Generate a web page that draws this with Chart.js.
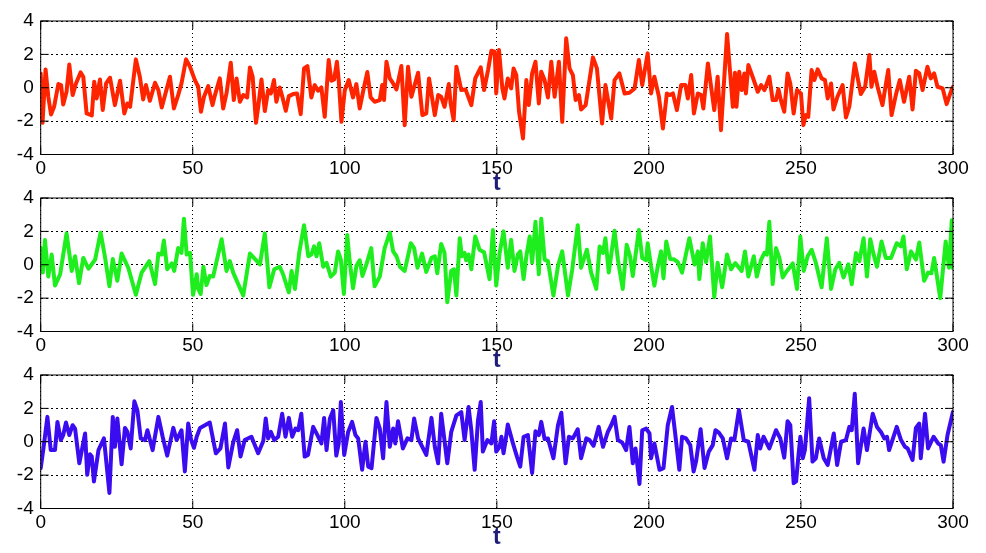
<!DOCTYPE html>
<html>
<head>
<meta charset="utf-8">
<script src="https://cdn.jsdelivr.net/npm/chart.js@4.4.0/dist/chart.umd.min.js"></script>
<style>
  html, body { margin: 0; padding: 0; background: #fff; }
  body { width: 986px; height: 553px; position: relative; overflow: hidden; }
  .panel { position: absolute; left: 0; width: 986px; height: 198px; }
</style>
</head>
<body>
<div class="panel" style="top:0px"><canvas id="c1" width="986" height="198"></canvas></div>
<div class="panel" style="top:176.5px"><canvas id="c2" width="986" height="198"></canvas></div>
<div class="panel" style="top:354.3px"><canvas id="c3" width="986" height="198"></canvas></div>
<script>
// --- data (t, value) ---
const xTicks = [0, 50, 100, 150, 200, 250, 300];
const yTicks = [-4, -2, 0, 2, 4];

const redT = [0,0.6,1.6,2.5,3.4,4.4,5.8,6.7,7.4,8.5,9.4,10.5,11.6,13.1,14,15.1,16.8,17.6,18.4,19.5,20.4,21.5,22.8,24.4,26.1,27.5,28.5,29.4,31.3,32.6,33.7,34.6,35.9,37.6,38.7,39.8,40.9,42.5,43.8,45.2,46.3,47.8,49.1,50.7,51.8,52.7,53.7,55.1,56.5,57.3,58.9,60,61.1,62.5,63.5,64.4,65.5,66.6,67.9,68.8,69.7,70.8,71.6,72.6,73.7,74.8,75.7,76.7,77.5,78.6,79.4,80.6,81.6,83,84.3,85.5,86.6,87.7,89,90.1,91.2,92.3,93.4,94.7,95.6,96.5,97.4,98,98.9,100,101.3,102.7,103.8,104.9,106,107.4,108.5,109.8,111.5,112.3,112.9,113.7,114.8,115.9,117,118.6,119.7,120.8,121.9,124.1,125.5,126.8,127.7,129.6,130.7,131.7,132.8,134.2,134.8,135.8,136.7,138.3,139.7,141.6,142.9,144.7,145.8,147.1,148.2,149.3,149.8,150.7,151.8,152.5,153.6,154.7,155.5,156.4,157.3,158.6,159.7,160.5,161.6,162.7,163.8,164.6,165.7,166.8,167.9,169,170.4,171.5,172.8,173.9,175,175.9,177,177.7,179.2,180.3,181.6,182.9,184.6,185.7,187.6,188.7,190.3,192,193.6,195.3,196.7,197.8,199.6,200.7,201.8,203.3,204.6,205.9,206.8,207.9,209.2,210.6,212,212.8,213.9,214.8,216.1,217.2,217.9,219.4,221.5,222.6,223.7,225.7,227.6,228.3,228.8,229.7,230.5,231.4,231.9,232.7,234.1,235.8,236.9,238,239.6,240.7,241.8,242.6,243.4,244.5,245.6,246.5,247.6,248.7,250,250.8,251.6,252.4,253.5,254.4,255.5,256.8,257.9,258.8,259.9,260.7,262,263.7,264.8,265.9,267.7,269.7,271.1,272.5,273.2,274.1,275.2,276.8,278.7,279.8,281.2,282.5,283.9,285.6,286.7,287.8,288.9,290,291.6,292.7,293.8,294.9,296.6,297.9,299.5,300];
const redV = [0.86,-2.1,1.1,-0.54,-1.6,-1.14,0.22,0.16,-1.0,-0.24,1.4,-0.44,0.26,0.92,0.66,-1.54,-1.66,0.36,-0.64,0.5,-1.34,0.26,0.6,-1.04,0.42,-1.54,-0.94,-1.14,1.7,0.66,-0.7,0.16,-0.78,0.3,-0.14,-1.18,-0.44,0.66,-1.24,-0.44,0.26,1.7,1.26,0.46,0.06,-1.44,-0.54,0.1,-1.04,-0.44,0.56,-1.24,-0.34,1.5,-0.74,0.56,-0.84,-0.44,-0.58,1.22,0.66,-2.1,-1.04,0.5,-1.4,-0.14,-0.34,0.46,-0.84,0.02,-0.5,-1.38,-0.5,-0.38,-0.34,-1.58,1.16,1.3,-0.58,0.16,-0.18,0.02,-1.74,1.66,0.42,0.5,1.56,0.46,-2.04,-0.14,0.46,-0.58,0.22,-1.24,-0.24,0.94,-0.58,-0.84,-0.74,0.16,-0.74,1.56,0.56,0.26,-0.1,1.3,-2.24,1.26,-0.54,0.9,-1.64,-1.54,0.56,-1.64,-0.44,-0.54,-1.14,0.22,-0.94,-1.94,1.26,-0.14,-0.1,-1.04,0.56,1.22,-0.14,1.06,2.22,2.16,-0.34,2.26,-0.04,-0.64,0.56,-0.04,1.16,0.76,-1.44,-3.04,0.46,-1.04,0.86,1.56,-0.94,0.96,0.46,-0.58,1.56,-0.54,1.56,-2.04,2.96,1.16,0.76,-0.74,-0.44,-1.3,-1.04,0.26,1.82,1.16,-2.14,0.16,-1.84,0.46,0.86,-0.34,-0.3,-0.04,1.66,0.16,2.06,-0.34,0.66,-0.54,-2.44,-0.34,-0.44,-0.34,-1.34,0.16,0.16,-0.64,0.76,-1.54,-0.34,-0.44,-1.24,1.46,-1.34,0.66,-2.54,3.22,-1.14,0.9,-1.14,0.96,-0.14,0.86,-0.34,1.36,0.66,-0.24,0.16,-0.14,0.66,-0.74,-0.74,-0.08,-0.74,-1.44,0.86,0.26,-1.54,-0.14,-0.34,-2.24,-1.64,-1.74,1.06,0.46,1.1,0.56,0.46,-0.64,0.26,-1.3,-0.54,0.16,-1.78,-1.14,1.46,-0.38,0.06,1.96,0.06,0.96,0.06,-1.04,1.06,-1.64,-0.44,0.46,-0.84,0.66,-1.3,1.02,0.86,-0.14,1.26,0.56,0.86,0.06,-0.04,-0.98,-0.14,0.06];

const greenT = [0,0.7,1.4,2.5,3.6,4.7,6.4,8.5,10.2,11.3,12.6,14,15.7,17.9,19.7,21.1,22.6,23.7,25.2,26.6,28.8,31.3,33.2,35.7,37.6,38.7,39.8,40.5,41.6,43.1,43.9,45.2,46.3,47.1,48,49.1,50.1,51.3,51.8,52.6,53.5,54.5,55.6,56.7,59.5,61.1,62.2,63.3,66.6,68.8,72.1,73.7,75.2,76.8,78.6,79.7,81.6,82.5,83.6,85,86.6,88,89,89.9,90.7,91.6,92.9,94,95.4,96.7,97.8,98.7,99.7,100.8,101.6,102.7,103.8,104.9,105.8,107.1,108.7,109.8,111.5,113.1,114.8,115.9,117,118.1,119.7,121.7,122.8,123.9,125.4,126.8,128.5,129.6,130.4,131.7,132.8,133.7,135,135.9,136.7,137.8,138.5,139.4,139.9,140.7,141.6,142.9,144.3,145.8,147.6,148.7,149.8,150.9,152.2,153.6,154.7,155.8,156.9,157.7,158.8,159.7,160.8,161.6,162.7,163.8,164.6,165.7,166.8,168.6,170.1,171.5,173.4,174.8,176.6,177.7,179.6,181,182.7,183.8,184.9,185.7,186.8,188.7,189.8,191.4,192.7,193.8,194.7,196.7,197.8,199.1,199.6,200.7,201.8,202.9,204,204.8,205.7,207,208.4,209.5,210.9,213.3,215,216.1,216.6,217.7,218.8,220.1,221.5,222.6,224.1,225.7,227,228.4,230.5,231.6,232.7,234.5,235.5,236.9,238,238.8,239.6,240.7,241.8,242.9,244,245.4,247.3,248.7,249.8,250.9,252.2,253.5,254.9,256.8,258.5,259.9,261.3,262.6,264,265.6,266.7,268.1,269.2,270.6,271.7,272.8,273.9,275,276.5,277.9,279.6,281.5,282.9,283.7,284.8,286.2,287.8,288.9,290.5,291.8,292.9,293.8,295.8,297.6,298.7,299.6,300];
const greenV = [1.0,-0.47,1.49,-0.71,0.61,-1.25,-0.57,1.88,-0.37,0.51,-1.1,0.41,-0.24,0.31,1.92,0.51,-1.29,0.35,-0.96,0.67,-0.18,-1.8,-0.47,0.22,-1.16,0.67,0.61,1.45,-0.27,0.08,-0.37,1.0,0.71,2.76,0.61,0.71,-1.8,-0.57,-1.45,-1.75,-0.12,-1.22,-0.67,-0.71,1.53,-0.37,0.22,-0.47,-1.84,0.67,0.02,1.88,-1.35,-0.27,-0.12,-0.57,-1.65,-0.37,-1.45,0.71,2.37,0.51,0.61,1.1,0.51,1.29,-0.12,0.12,-0.71,-0.47,0.8,0.31,-1.75,1.78,0.22,-1.41,-0.08,0.27,-0.67,0.02,1.0,-1.29,-0.71,1.0,1.92,0.8,0.51,-0.12,-0.37,1.29,1.0,-0.18,0.67,-0.43,0.41,0.51,-0.51,1.25,0.71,-2.24,-0.37,-0.27,-1.84,1.59,0.51,0.71,0.27,0.61,-0.27,1.69,0.9,0.75,-0.86,2.08,-1.25,0.7,2.0,-0.18,1.49,-0.37,0.61,0.8,-0.86,0.51,1.69,0.12,2.57,-0.57,2.76,0.31,0.22,-1.84,-0.08,0.8,-1.84,-0.27,2.37,-0.18,0.9,-0.47,-1.45,1.1,0.71,1.59,-0.47,2.04,0.31,-1.45,1.2,0.51,-0.67,2.08,0.41,0.27,1.29,-0.08,-1.25,-0.12,0.8,-0.82,1.39,0.35,0.31,0.16,-0.47,1.59,0.02,0.8,-0.86,1.29,0.16,1.69,-1.94,0.12,-1.35,0.61,-0.27,0.1,-0.37,0.8,-0.71,0.51,-0.71,0.31,0.71,0.61,2.57,-1.16,1.0,0.41,-0.76,-0.37,0.08,-1.45,1.69,-0.37,0.51,0.9,0.12,-1.35,1.59,-1.45,-0.27,0.12,-0.76,0.02,-1.16,0.71,0.22,1.59,-0.71,1.53,0.61,-0.12,1.39,0.41,0.41,1.29,1.1,1.69,-0.27,0.8,0.31,1.33,-0.96,-0.47,-0.51,0.41,-2.0,1.39,-0.18,2.67,-0.2];

const blueT = [0,0.9,2.2,3.3,4.7,5.5,6.6,7.4,8.3,9.4,10.5,11.3,12.7,14.6,15.3,16.2,16.8,17.5,19,20.8,22.6,23.7,24.4,25.2,26.6,27.7,28.5,29.6,30.8,31.8,32.9,34.3,35.1,36.8,38.7,40.1,41.6,43.6,44.7,46.3,47.4,48.5,49.4,50.4,51.3,52.4,54,55.6,57.6,59.1,60.6,61.7,63.3,64.6,65.7,67.1,69.3,71.5,73.2,74,74.8,75.7,76.8,78.1,79.4,80.5,81.6,82.7,83.8,84.7,85.7,86.8,87.9,89.6,91,92.3,93.2,94,95.1,96.2,97.2,98,98.7,99.8,101.1,102.4,103.5,104.4,105.7,106.8,107.7,108.8,110.4,111.5,112.6,113.7,114.8,115.9,116.6,117.5,119.1,120.6,121.9,122.8,124.1,125.2,126.8,128.5,129.6,130.7,131.7,133.7,135,136.7,138.3,139.4,140.7,141.6,142.7,143.8,144.7,145.4,146.9,148.2,149.1,149.8,150.9,151.5,152.2,152.9,153.6,155.3,156.6,157.7,158.8,160.2,161.6,162.7,163.8,164.6,165.7,166.8,168.6,170.1,171.2,172.6,173.7,175,176.6,177.7,179.4,180.5,181.8,183.5,184.9,186.5,187.6,188.7,189.8,191.2,192.5,193.6,194.7,195.6,196.9,197.8,199.1,200.2,200.7,201.8,203.5,204.8,206.2,207.6,208.7,210,210.9,212.2,213.6,214.7,215.5,217,218.3,219.7,221,221.9,223,224.3,225.7,227,228.1,229.6,231.2,232.7,234.7,235.8,236.6,237.7,239.6,241.8,243.2,244.5,245.6,246.5,247.6,248.4,249.2,249.8,250.6,251.3,252.7,253.8,254.9,256,257.5,258.8,260.8,261.9,263.2,264.8,265.9,266.7,267.7,268.8,270.6,271.7,273.6,275,276.3,277.4,278.3,279,281.5,282.9,284.2,285.1,286.7,287.8,288.9,289.4,290.8,291.8,293.6,295.1,296,296.9,298.2,300];
const blueV = [-1.58,-0.4,1.49,-0.5,-0.5,1.19,0.1,0.4,1.15,0.4,0.99,0.79,-1.29,0.5,-1.98,-0.75,-0.89,-2.38,-0.5,0.2,-3.07,1.49,-0.3,1.39,-1.35,0.83,0.59,-0.4,2.42,1.88,0.2,0.1,0.69,-0.5,1.49,0.3,-0.83,0.83,0.1,0.69,-1.78,1.09,0.16,-0.36,0.3,0.83,0.99,1.15,-0.69,-0.4,1.09,-1.54,-0.04,0.69,-0.89,0.1,0.3,-0.69,0.04,1.39,0.2,0.59,0.1,0.3,1.68,0.3,1.43,0.3,0.79,0.69,1.68,-0.89,-0.79,0.89,0.4,-0.1,1.43,-0.5,1.39,1.88,-0.83,-0.1,2.38,-0.79,0.59,1.19,0.4,0.2,-1.68,0,-1.49,-1.58,1.43,0.79,-0.99,2.38,-0.3,0.79,-0.1,1.23,-0.4,0.2,0.1,1.39,0.2,-0.2,-0.79,1.43,-0.3,-1.29,1.68,-1.29,0.59,1.58,1.78,0.1,2.08,0.69,-1.68,1.29,2.38,-0.59,0.1,-0.1,1.23,-0.59,-0.3,0.3,-0.69,0.1,1.03,-0.1,-0.89,-1.49,0.3,0.4,-1.88,0.63,0.4,1.19,0.16,0.2,-0.99,0.99,1.74,-1.29,0.3,0.2,0.75,-0.99,0.2,0.1,-0.24,0.89,-0.3,0.59,0.99,1.49,0.1,-0.04,-0.5,0.89,-1.29,-0.4,-2.53,0.69,0.79,0.5,-0.99,-0.1,-1.68,-1.58,0.99,2.08,0.4,-1.68,0.3,0.2,-0.2,-1.78,-1.19,0.75,-1.58,-0.59,-0.2,0.69,0.55,0.2,-0.99,0.2,0.1,1.9,0.1,0,-1.68,0.4,-0.4,0.3,-0.4,0.69,0.2,-0.95,1.23,0.99,-2.48,-2.38,-0.79,0.3,-0.99,-0.5,2.61,-1.19,-0.99,0.2,-0.99,-1.39,0.5,-1.39,0,0.1,0.89,0.69,2.87,-1.29,0.79,-0.5,1.68,0.89,0.59,0.2,0.3,-0.5,0.89,0.1,-0.3,-0.4,-1.09,0.83,1.09,-0.99,1.68,-0.4,0.3,-0.1,-0.2,-1.19,0.4,1.8];

// --- boxed axes with inward tick marks (matlab style) ---
const boxTicks = {
  id: 'boxTicks',
  afterDatasetsDraw(chart) {
    const { ctx, chartArea: a, scales } = chart;
    const len = 8;
    ctx.save();
    ctx.strokeStyle = '#000';
    ctx.lineWidth = 1;
    ctx.strokeRect(a.left, a.top, a.right - a.left, a.bottom - a.top);
    ctx.beginPath();
    scales.x.ticks.forEach(tk => {
      const px = scales.x.getPixelForValue(tk.value);
      ctx.moveTo(px, a.bottom); ctx.lineTo(px, a.bottom - len);
      ctx.moveTo(px, a.top); ctx.lineTo(px, a.top + len);
    });
    scales.y.ticks.forEach(tk => {
      const py = scales.y.getPixelForValue(tk.value);
      ctx.moveTo(a.left, py); ctx.lineTo(a.left + len, py);
      ctx.moveTo(a.right, py); ctx.lineTo(a.right - len, py);
    });
    ctx.stroke();
    ctx.restore();
  }
};

const tickFont = { family: 'Liberation Sans, Arial, sans-serif', size: 19 };

function makePanel(id, ts, vs, color) {
  const points = ts.map((t, i) => ({ x: t, y: vs[i] }));
  return new Chart(document.getElementById(id), {
    type: 'line',
    data: { datasets: [{ data: points, borderColor: color, borderWidth: 4, borderJoinStyle: 'round', borderCapStyle: 'round', pointRadius: 0, tension: 0, fill: false }] },
    options: {
      responsive: false,
      animation: false,
      events: [],
      layout: { padding: { top: 21, right: 33, bottom: 0.5, left: 0 } },
      plugins: { legend: { display: false }, tooltip: { enabled: false } },
      scales: {
        x: {
          type: 'linear', min: 0, max: 300,
          afterBuildTicks: s => { s.ticks = xTicks.map(v => ({ value: v })); },
          afterFit: s => { s.height = 43; },
          grid: { color: '#000', lineWidth: 1, drawTicks: false },
          border: { display: false, dash: [1, 3] },
          ticks: { color: '#000', font: tickFont, padding: 3, maxRotation: 0, callback: v => String(v) },
          title: { display: true, text: 't', color: '#1e1e78', padding: 0,
                   font: { family: 'Liberation Sans, Arial, sans-serif', size: 23, weight: 'bold' } }
        },
        y: {
          type: 'linear', min: -4, max: 4,
          afterBuildTicks: s => { s.ticks = yTicks.map(v => ({ value: v })); },
          afterFit: s => { s.width = 40.7; },
          grid: { color: '#000', lineWidth: 1, drawTicks: false },
          border: { display: false, dash: [2, 3] },
          ticks: { color: '#000', font: tickFont, padding: 7, callback: v => String(v) }
        }
      }
    },
    plugins: [boxTicks]
  });
}

makePanel('c1', redT, redV, 'rgb(255,36,0)');
makePanel('c2', greenT, greenV, 'rgb(30,238,30)');
makePanel('c3', blueT, blueV, 'rgb(60,12,240)');
</script>
</body>
</html>
